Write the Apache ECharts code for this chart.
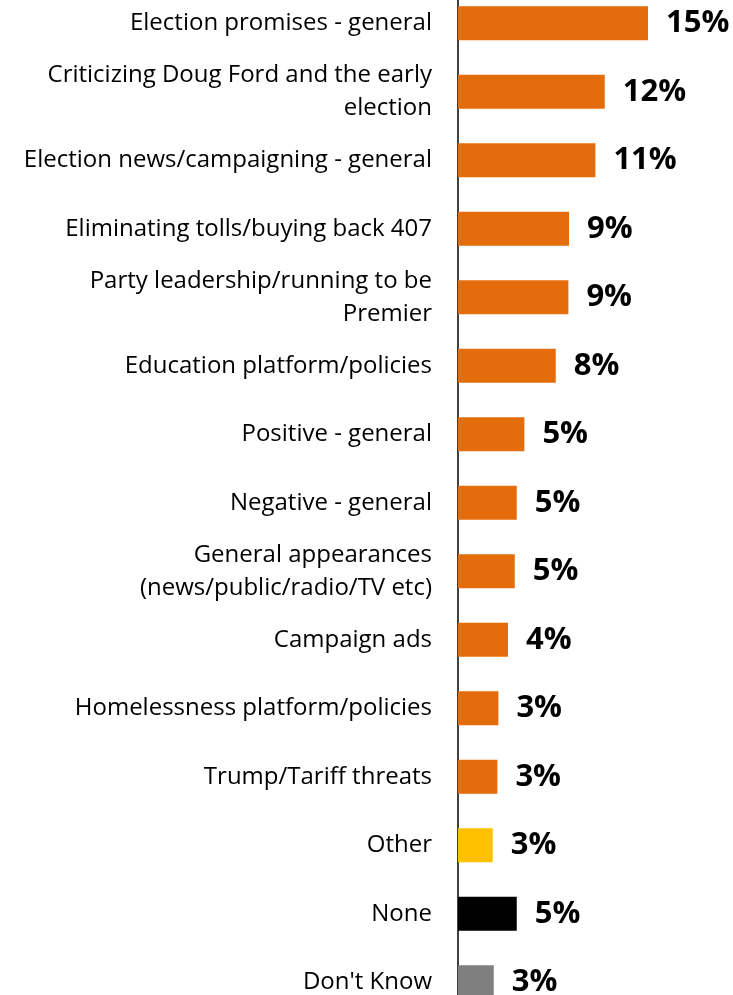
<!DOCTYPE html>
<html>
<head>
<meta charset="utf-8">
<script src="https://cdn.jsdelivr.net/npm/echarts@6/dist/echarts.min.js"></script>
<style>
html,body{margin:0;padding:0;background:#fff;overflow:hidden;width:733px;height:995px;}
#chart{position:absolute;left:0;top:-11px;width:733px;height:1040px;}
</style>
</head>
<body>
<div id="chart"></div>
<script>
var categories = [
  'Election promises - general',
  'Criticizing Doug Ford and the early\nelection',
  'Election news/campaigning - general',
  'Eliminating tolls/buying back 407',
  'Party leadership/running to be\nPremier',
  'Education platform/policies',
  'Positive - general',
  'Negative - general',
  'General appearances\n(news/public/radio/TV etc)',
  'Campaign ads',
  'Homelessness platform/policies',
  'Trump/Tariff threats',
  'Other',
  'None',
  "Don't Know"
];
var values = [15.2, 11.74, 10.99, 8.88, 8.83, 7.82, 5.31, 4.7, 4.54, 4.0, 3.23, 3.15, 2.78, 4.7, 2.86];
var valueLabels = ['15%', '12%', '11%', '9%', '9%', '8%', '5%', '5%', '5%', '4%', '3%', '3%', '3%', '5%', '3%'];
var barColors = ['#E46C0A','#E46C0A','#E46C0A','#E46C0A','#E46C0A','#E46C0A','#E46C0A','#E46C0A','#E46C0A','#E46C0A','#E46C0A','#E46C0A','#FFC000','#000000','#7F7F7F'];

var chart = echarts.init(document.getElementById('chart'), null, {renderer: 'canvas'});
chart.setOption({
  animation: false,
  backgroundColor: '#ffffff',
  grid: {left: 458, width: 275, top: 0, height: 1027.5},
  xAxis: {
    type: 'value', min: 0, max: 22, show: false
  },
  yAxis: {
    type: 'category',
    inverse: true,
    data: categories,
    axisLine: {show: true, lineStyle: {color: '#000', width: 1.5}},
    axisTick: {show: false},
    axisLabel: {
      margin: 26,
      color: '#000',
      fontFamily: 'Open Sans',
      fontSize: 24,
      lineHeight: 33,
      align: 'right'
    }
  },
  series: [{
    type: 'bar',
    barWidth: 34,
    data: values.map(function (v, i) {
      return {value: v, itemStyle: {color: barColors[i]}};
    }),
    label: {
      show: true,
      position: 'right',
      distance: 18,
      color: '#000',
      fontFamily: 'Open Sans',
      fontWeight: 'bold',
      fontSize: 31,
      formatter: function (p) { return valueLabels[p.dataIndex]; }
    }
  }]
});
</script>
</body>
</html>
